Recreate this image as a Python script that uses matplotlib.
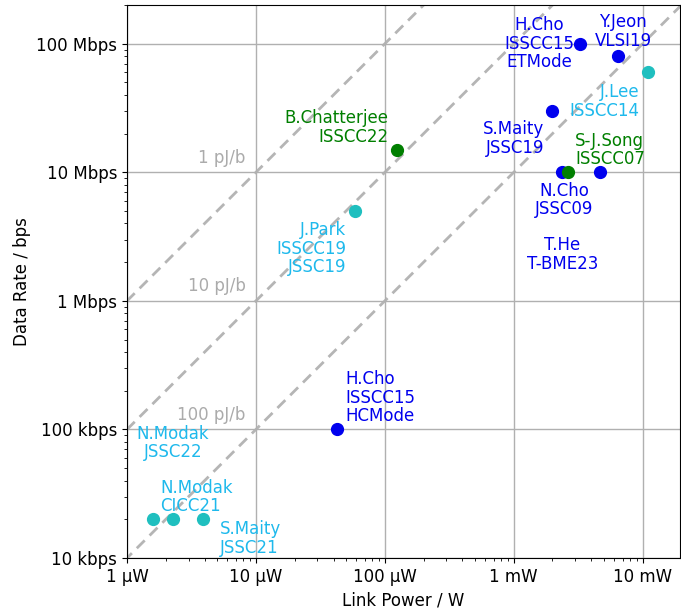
import matplotlib

matplotlib.use("Agg")
import matplotlib.pyplot as plt
import numpy as np

# link power (W), data rate (bps), label, group
names = ["H.Cho\nISSCC15\nETMode", "Y.Jeon\nVLSI19", "S.Maity\nJSSC19", "N.Cho\nJSSC09",
         "T.He\nT-BME23", "H.Cho\nISSCC15\nHCMode",
         "B.Chatterjee\nISSCC22", "S-J.Song\nISSCC07",
         "J.Lee\nISSCC14", "J.Park\nISSCC19\nJSSC19", "N.Modak\nJSSC22",
         "N.Modak\nCICC21", "S.Maity\nJSSC21"]
power = [3.25e-3, 6.4e-3, 2.0e-3, 2.35e-3, 4.65e-3, 4.25e-5,
         1.24e-4, 2.65e-3,
         1.1e-2, 5.85e-5, 1.6e-6, 2.27e-6, 3.9e-6]
rate = [1e8, 8e7, 3e7, 1e7, 1e7, 1e5,
        1.5e7, 1e7,
        6e7, 5e6, 2e4, 2e4, 2e4]
group = ["b", "b", "b", "b", "b", "b", "g", "g", "c", "c", "c", "c", "c"]

# label offsets in points + alignment
offsets = [(-29, 0, "center"), (4, 18, "center"), (-6, -20, "right"), (2, -20, "center"),
           (-27, -59, "center"), (6, 23, "left"),
           (-6, 16, "right"), (5, 16, "left"),
           (-6, -21, "right"), (-6, -27, "right"), (14, 55, "center"),
           (-9, 16, "left"), (12, -14, "left")]

energy_pj = [1, 10, 100]

marker_col = {"b": "#0000ee", "g": "#007f00", "c": "#1fbfbf"}
text_col = {"b": "#0000ee", "g": "#007f00", "c": "#1eb9ec"}

fig = plt.figure(figsize=(6.81, 6.11), dpi=100)
ax = fig.add_axes([0.1865, 0.0867, 0.812, 0.905])
ax.set_xscale("log")
ax.set_yscale("log")
ax.set_xlim(1e-6, 1.95e-2)
ax.set_ylim(1e4, 2e8)

# energy-per-bit lines
p = np.array([1e-7, 1e-1])
for e in energy_pj:
    ax.plot(p, p / (e * 1e-12), ls=(0, (4, 2.5)), color="#b5b5b5", lw=2, zorder=1)
    ax.annotate(f"{e} pJ/b", (1.3e-5, 1.3e-5 / (e * 1e-12)), xytext=(-18, 0),
                textcoords="offset points", ha="right", va="center",
                color="#ababab", fontsize=12)

for x, y, n, g, (dx, dy, ha) in zip(power, rate, names, group, offsets):
    ax.plot(x, y, "o", color=marker_col[g], ms=8.5, zorder=3)
    ax.annotate(n, (x, y), xytext=(dx, dy), textcoords="offset points",
                ha=ha, va="center", multialignment=ha, color=text_col[g],
                fontsize=12, linespacing=1.05)

ax.set_xticks([1e-6, 1e-5, 1e-4, 1e-3, 1e-2])
ax.set_xticklabels(["1 µW", "10 µW", "100 µW", "1 mW", "10 mW"])
ax.set_yticks([1e4, 1e5, 1e6, 1e7, 1e8])
ax.set_yticklabels(["10 kbps", "100 kbps", "1 Mbps", "10 Mbps", "100 Mbps"])
ax.tick_params(labelsize=12)
ax.grid(True, which="major", color="#b0b0b0", lw=1)
ax.set_xlabel("Link Power / W", fontsize=12)
ax.set_ylabel("Data Rate / bps", fontsize=12)

fig.savefig("out.png", dpi=100)
